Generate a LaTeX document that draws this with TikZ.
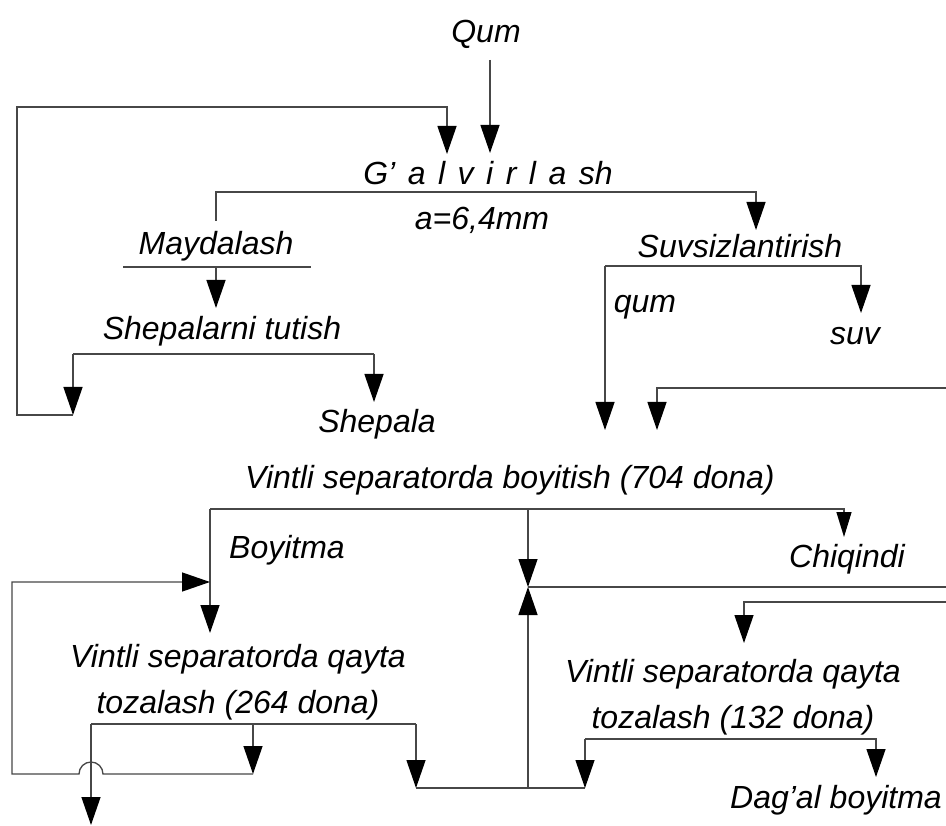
\documentclass[tikz,border=0pt]{standalone}
\usepackage{fontspec}
\setmainfont{Liberation Sans}
\usetikzlibrary{arrows.meta}
\newcommand\galsp{\hspace{12.5pt}}
\tikzset{
  ln/.style={draw=black!72, line width=1.3pt},
  arr/.style={ln, -{Triangle[width=19pt,length=28pt,color=black]}},
  arrs/.style={ln, -{Triangle[width=15pt,length=25pt,color=black]}},
  lbl/.style={font=\fontsize{32}{46}\selectfont\itshape, inner sep=0pt, anchor=base},
  lbltwo/.style={font=\fontsize{32}{46}\selectfont\itshape, inner sep=0pt, anchor=center, align=center},
}
\begin{document}
\begin{tikzpicture}[x=1pt,y=-1pt]
\useasboundingbox (0,0) rectangle (946,826);
% labels
\node[lbl] (qum) at (486,43) {Qum};
\node[lbl] (galv) at (488,185) {G’\galsp a\galsp l\galsp v\galsp i\galsp r\galsp l\galsp a\galsp sh};
\node[lbl] (ak) at (482,230) {a=6,4mm};
\node[lbl] (mayd) at (216,255) {Maydalash};
\node[lbl] (shept) at (222,340) {Shepalarni tutish};
\node[lbl] (shep) at (377,432) {Shepala};
\node[lbl] (suvs) at (740,258) {Suvsizlantirish};
\node[lbl] (qumb) at (645,313) {qum};
\node[lbl] (suv) at (855,345) {suv};
\node[lbl] (boy) at (510,489) {Vintli separatorda boyitish (704 dona)};
\node[lbl] (boyt) at (287,558) {Boyitma};
\node[lbl] (chiq) at (847,567) {Chiqindi};
\node[lbltwo] (qa) at (238,682) {Vintli separatorda qayta\\tozalash (264 dona)};
\node[lbltwo] (qb) at (733,697) {Vintli separatorda qayta\\tozalash (132 dona)};
\node[lbl] (dag) at (836,808) {Dag’al boyitma};
% junction points
\coordinate (q1) at (490,60);  \coordinate (q2) at (490,153);
\coordinate (s1) at (73,354);  \coordinate (s2) at (374,354); \coordinate (s3) at (374,402);
\coordinate (l0) at (73,415);  \coordinate (l1) at (17,415);  \coordinate (l2) at (17,107);
\coordinate (l3) at (447,107); \coordinate (l4) at (447,154);
\coordinate (g1) at (216,192); \coordinate (g2) at (756,192); \coordinate (g3) at (216,221); \coordinate (g4) at (756,230);
\coordinate (m1) at (123,267); \coordinate (m2) at (311,267); \coordinate (m3) at (216,267); \coordinate (m4) at (216,308);
\coordinate (v1) at (605,266); \coordinate (v2) at (861,266); \coordinate (v3) at (861,313); \coordinate (v4) at (605,430);
\coordinate (r1) at (946,388); \coordinate (r2) at (657,388); \coordinate (r3) at (657,430);
\coordinate (b1) at (210,509); \coordinate (b2) at (844,509); \coordinate (b3) at (844,537); \coordinate (b4) at (210,633);
\coordinate (b5) at (528,509); \coordinate (b6) at (528,587); \coordinate (b7) at (946,587); \coordinate (b8) at (528,788);
\coordinate (c1) at (91,724);  \coordinate (c2) at (416,724); \coordinate (c3) at (253,724); \coordinate (c4) at (253,774);
\coordinate (h1) at (103,774); \coordinate (c5) at (12,774);  \coordinate (c6) at (12,582);  \coordinate (c7) at (210,582);
\coordinate (c8) at (91,825);  \coordinate (c9) at (416,788); \coordinate (c10) at (585,788);
\coordinate (d1) at (585,739); \coordinate (d2) at (876,739); \coordinate (d3) at (876,777);
\coordinate (e1) at (946,602); \coordinate (e2) at (744,602); \coordinate (e3) at (744,643);
% connectors
\draw[arr] (q1) -- (q2);
\draw[ln] (s1) -- (s2);
\draw[arr] (s1) -- (l0);
\draw[arr] (s2) -- (s3);
\draw[arr] (l0) -- (l1) -- (l2) -- (l3) -- (l4);
\draw[arr] (g3) -- (g1) -- (g2) -- (g4);
\draw[ln] (m1) -- (m2);
\draw[arr] (m3) -- (m4);
\draw[arr] (v1) -- (v2) -- (v3);
\draw[arr] (v1) -- (v4);
\draw[arr] (r1) -- (r2) -- (r3);
\draw[arrs] (b1) -- (b2) -- (b3);
\draw[arr] (b1) -- (b4);
\draw[arr] (b5) -- (b6);
\draw[arr] (b8) -- (b6);
\draw[ln] (b6) -- (b7);
\draw[ln] (c1) -- (c2);
\draw[arr] (c1) -- (c8);
\draw[arr] (c3) -- (c4);
\draw[arr] (c4) -- (h1) arc[start angle=0, end angle=180, radius=12pt] -- (c5) -- (c6) -- (c7);
\draw[arr] (c2) -- (c9);
\draw[ln] (c9) -- (c10);
\draw[arr] (d1) -- (c10);
\draw[arr] (d1) -- (d2) -- (d3);
\draw[arr] (e1) -- (e2) -- (e3);
\end{tikzpicture}
\end{document}
